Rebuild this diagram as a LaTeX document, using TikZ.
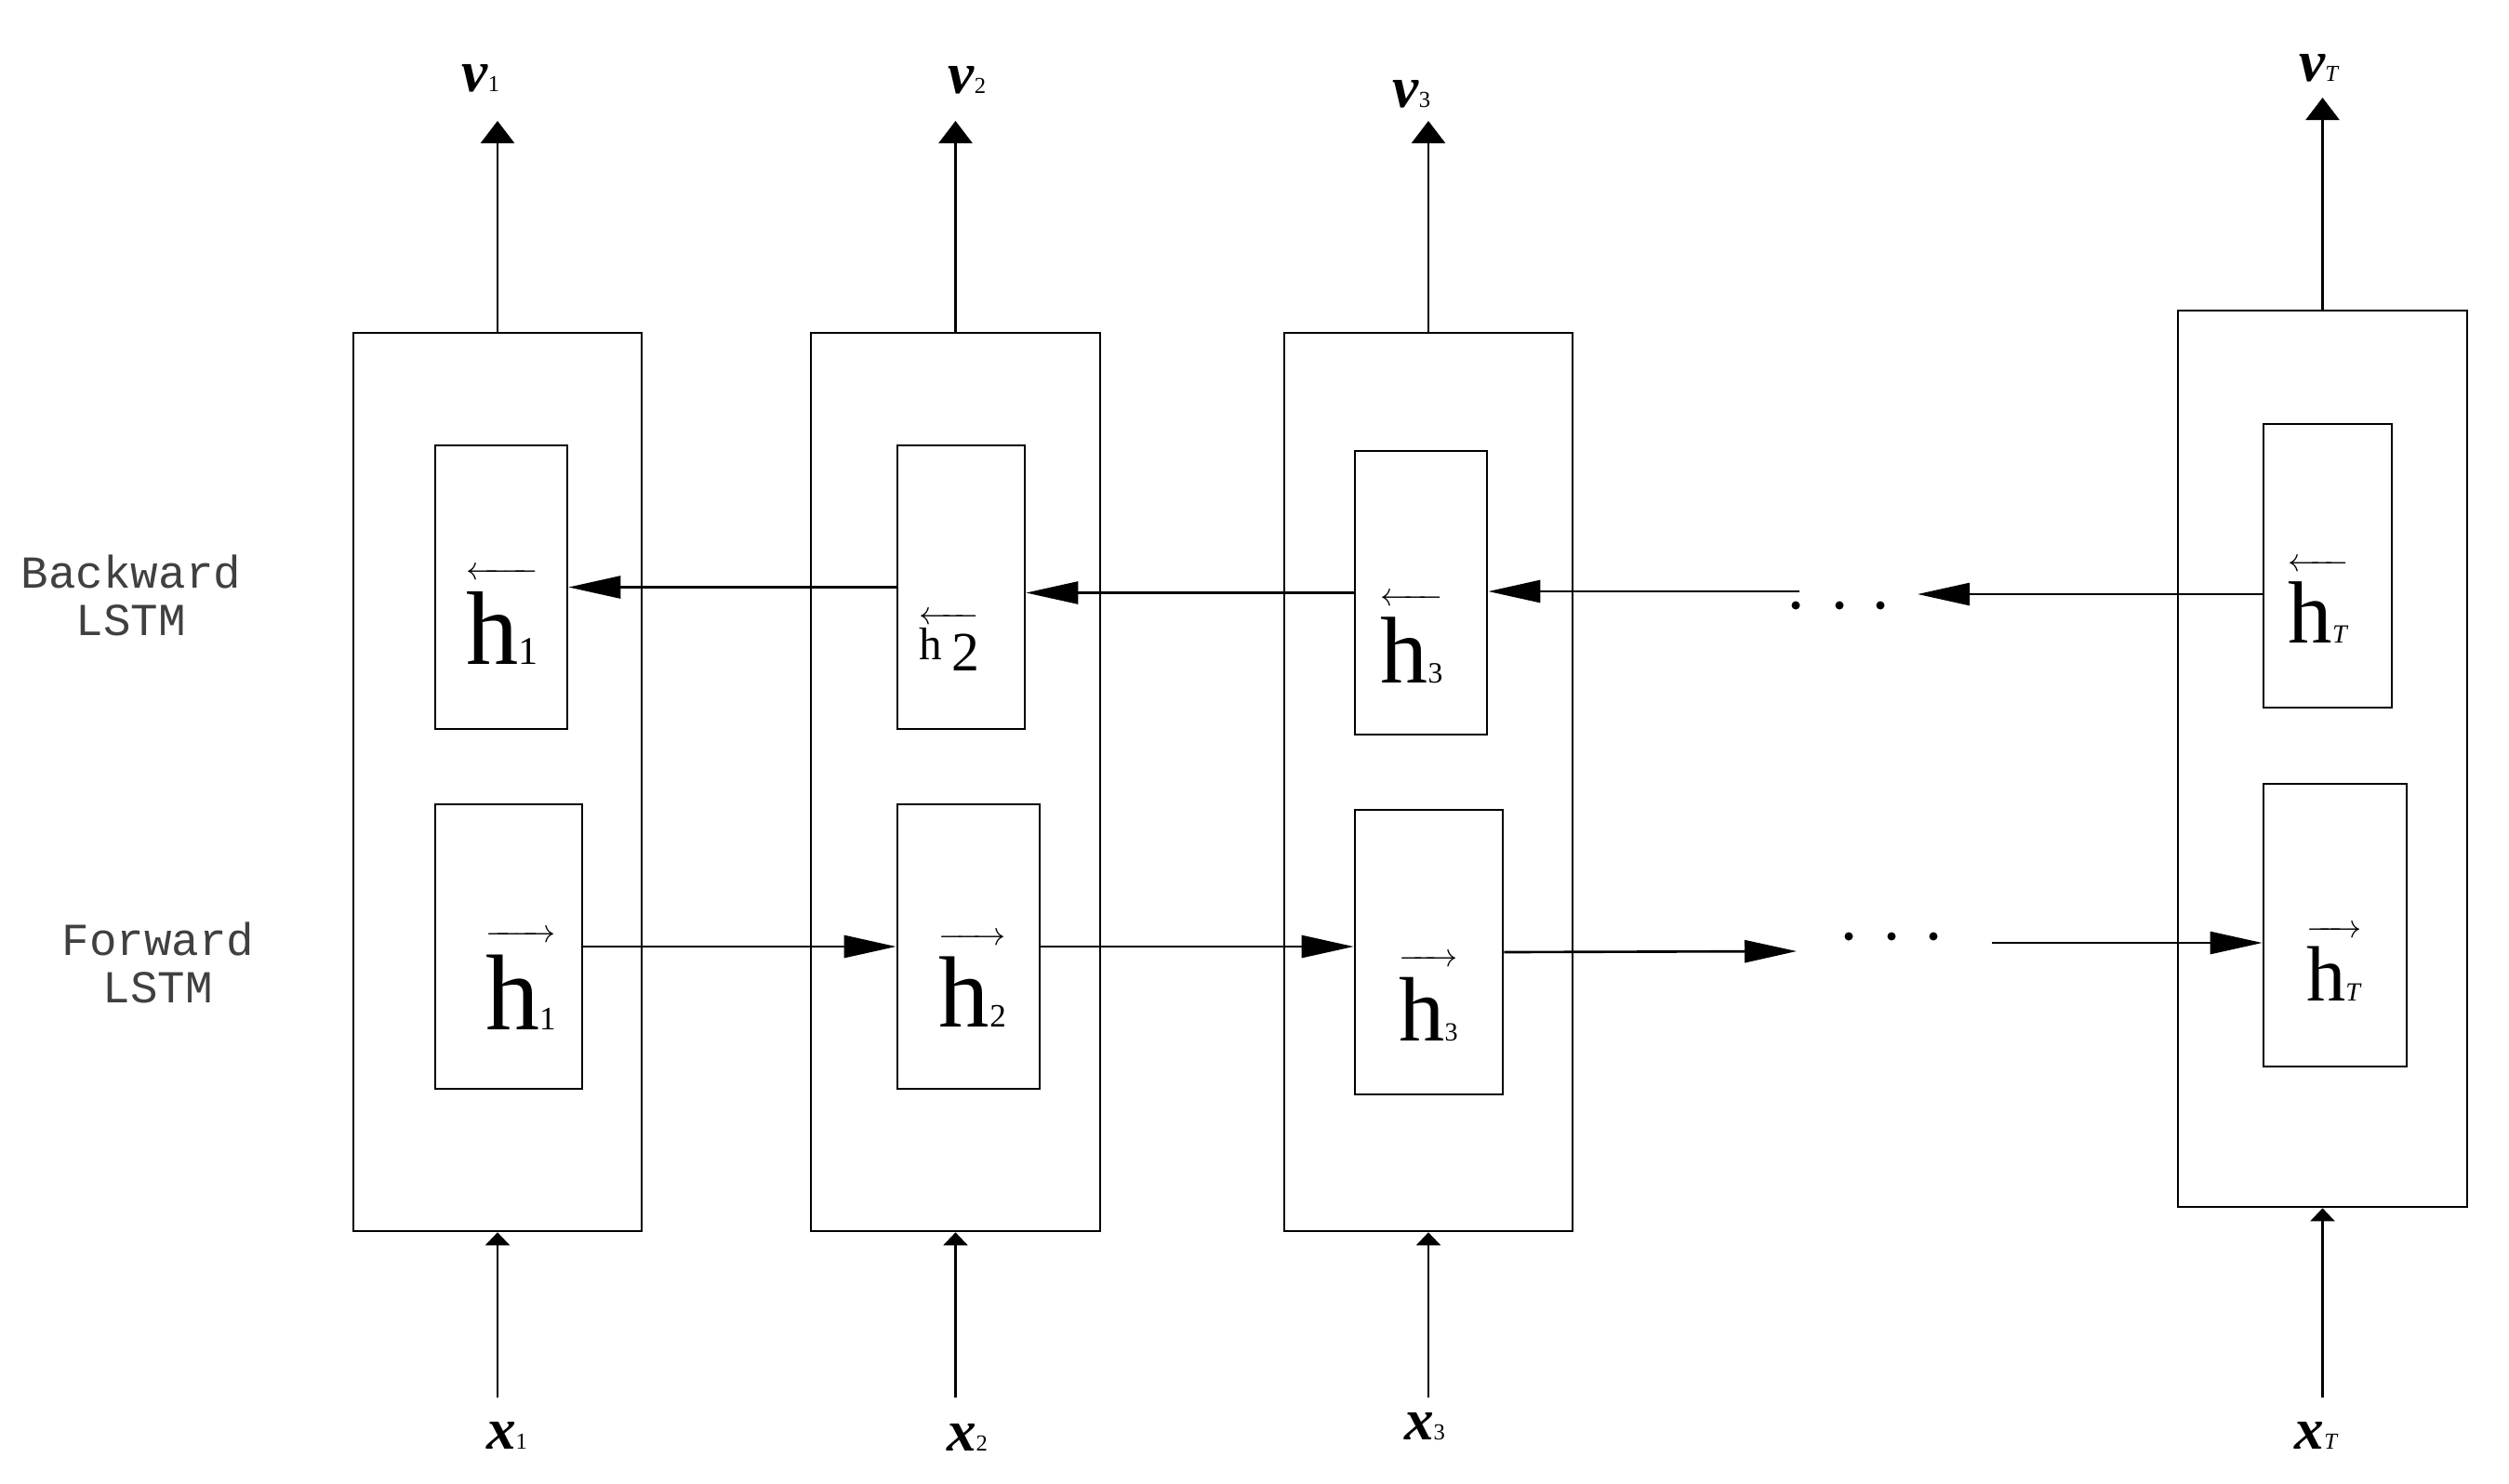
\documentclass[tikz,border=0pt]{standalone}
\usepackage{fontspec}
\setmainfont{Liberation Serif}
\newfontfamily\lstmfont{Liberation Mono}
\usetikzlibrary{arrows.meta}

% state label: #1 arrow, #2 size of h, #3 size of index, #4 index
\newcommand{\hstate}[4]{%
  $#1{\hbox{\fontsize{#2}{#2}\selectfont\rule{0pt}{0.84em}h%
    \fontsize{#3}{#3}\selectfont #4}}$}
% input / output label: #1 letter, #2 index
\newcommand{\seqlab}[2]{%
  {\fontsize{18}{18}\selectfont\bfseries\itshape #1}{\fontsize{7}{7}\selectfont #2}}

\begin{document}
\begin{tikzpicture}[x=1cm, y=-1cm,
  cell/.style={draw, line width=0.75pt, inner sep=0pt},
  state/.style={anchor=base, inner sep=0pt},
  side/.style={align=center, text=black!75,
    font=\lstmfont\fontsize{14}{14.5}\selectfont},
  flow/.style={line width=0.75pt, -{Triangle[length=5.6mm, width=2.4mm]}},
  upflow/.style={line width=0.75pt, -{Triangle[length=2.4mm, width=3.6mm]}},
  inflow/.style={line width=0.75pt, -{Triangle[length=1.4mm, width=2.6mm]}}
]
  \useasboundingbox (0,0) rectangle (26.98,15.95);

  % outer cells
  \node (cell 1) [cell, minimum width=3.10cm, minimum height=9.66cm]
    at (5.35,8.41) {};
  \node (cell 2) [cell, minimum width=3.11cm, minimum height=9.66cm]
    at (10.275,8.41) {};
  \node (cell 3) [cell, minimum width=3.10cm, minimum height=9.66cm]
    at (15.36,8.41) {};
  \node (cell T) [cell, minimum width=3.11cm, minimum height=9.64cm]
    at (24.975,8.16) {};

  % backward states
  \node (back 1) [cell, minimum width=1.42cm, minimum height=3.05cm]
    at (5.39,6.315) {};
  \node (back 2) [cell, minimum width=1.37cm, minimum height=3.05cm]
    at (10.335,6.315) {};
  \node (back 3) [cell, minimum width=1.42cm, minimum height=3.05cm]
    at (15.28,6.375) {};
  \node (back T) [cell, minimum width=1.38cm, minimum height=3.05cm]
    at (25.03,6.085) {};

  % forward states
  \node (fwd 1) [cell, minimum width=1.58cm, minimum height=3.06cm]
    at (5.47,10.18) {};
  \node (fwd 2) [cell, minimum width=1.53cm, minimum height=3.06cm]
    at (10.415,10.18) {};
  \node (fwd 3) [cell, minimum width=1.59cm, minimum height=3.06cm]
    at (15.365,10.24) {};
  \node (fwd T) [cell, minimum width=1.54cm, minimum height=3.04cm]
    at (25.11,9.95) {};

  \node (back 1 lab) [state] at (5.40,7.14)
    {\hstate{\overleftarrow}{32}{12}{1}};
  \node (back 2 lab) [state] at (10.21,7.09)
    {\hstate{\overleftarrow}{14}{17}{\,\raisebox{-1.2mm}{2}}};
  \node (back 3 lab) [state] at (15.18,7.34)
    {\hstate{\overleftarrow}{29}{9}{3}};
  \node (back T lab) [state] at (24.93,6.91)
    {\hstate{\overleftarrow}{27}{8}{\textit{T}}};
  \node (fwd 1 lab) [state] at (5.60,11.07)
    {\hstate{\overrightarrow}{33}{10}{1}};
  \node (fwd 2 lab) [state] at (10.46,11.04)
    {\hstate{\overrightarrow}{31}{10}{2}};
  \node (fwd 3 lab) [state] at (15.36,11.19)
    {\hstate{\overrightarrow}{28}{8}{3}};
  \node (fwd T lab) [state] at (25.10,10.76)
    {\hstate{\overrightarrow}{24}{8}{\textit{T}}};

  % side names
  \node (back name) [side] at (1.41,6.405) {Backward\\LSTM};
  \node (fwd name) [side] at (1.70,10.355) {Forward\\LSTM};

  % outputs
  \node (v 1) [state] at (5.17,0.98) {\seqlab{v}{1}};
  \node (v 2) [state] at (10.40,1.00) {\seqlab{v}{2}};
  \node (v 3) [state] at (15.18,1.15) {\seqlab{v}{3}};
  \node (v T) [state] at (24.94,0.87) {\seqlab{v}{\textit{T}}};
  \coordinate (v tip 1) at (5.35,1.30);
  \coordinate (v tip 2) at (10.275,1.30);
  \coordinate (v tip 3) at (15.36,1.30);
  \coordinate (v tip T) at (24.975,1.05);
  \draw [upflow] (cell 1.north) -- (v tip 1);
  \draw [upflow] (cell 2.north) -- (v tip 2);
  \draw [upflow] (cell 3.north) -- (v tip 3);
  \draw [upflow] (cell T.north) -- (v tip T);

  % inputs
  \node (x 1) [state] at (5.45,15.58) {\seqlab{x}{1}};
  \node (x 2) [state] at (10.40,15.60) {\seqlab{x}{2}};
  \node (x 3) [state] at (15.32,15.48) {\seqlab{x}{3}};
  \node (x T) [state] at (24.91,15.58) {\seqlab{x}{\textit{T}}};
  \coordinate (x tail 1) at (5.35,15.03);
  \coordinate (x tail 2) at (10.275,15.03);
  \coordinate (x tail 3) at (15.36,15.03);
  \coordinate (x tail T) at (24.975,15.03);
  \draw [inflow] (x tail 1) -- (cell 1.south);
  \draw [inflow] (x tail 2) -- (cell 2.south);
  \draw [inflow] (x tail 3) -- (cell 3.south);
  \draw [inflow] (x tail T) -- (cell T.south);

  % backward chain
  \coordinate (bwd tip) at (20.62,6.39);
  \coordinate (bwd tail) at (19.35,6.36);
  \draw [flow] (back T.west |- bwd tip) -- (bwd tip);
  \draw [flow] (bwd tail) -- (back 3.east |- bwd tail);
  \draw [flow] (back 3.west) -- (back 2.east |- back 3.west);
  \draw [flow] (back 2) -- (back 1);
  \fill (19.31,6.51) circle (0.045) (19.78,6.51) circle (0.045)
    (20.22,6.51) circle (0.045);

  % forward chain
  \coordinate (fwd tip) at (19.32,10.23);
  \coordinate (fwd tail) at (21.42,10.14);
  \draw [flow] (fwd 1) -- (fwd 2);
  \draw [flow] (fwd 2.east) -- (fwd 3.west |- fwd 2.east);
  \draw [flow] (fwd 3.east) -- (fwd tip);
  \draw [flow] (fwd tail) -- (fwd T.west |- fwd tail);
  \fill (19.88,10.07) circle (0.045) (20.34,10.07) circle (0.045)
    (20.79,10.07) circle (0.045);
\end{tikzpicture}
\end{document}
